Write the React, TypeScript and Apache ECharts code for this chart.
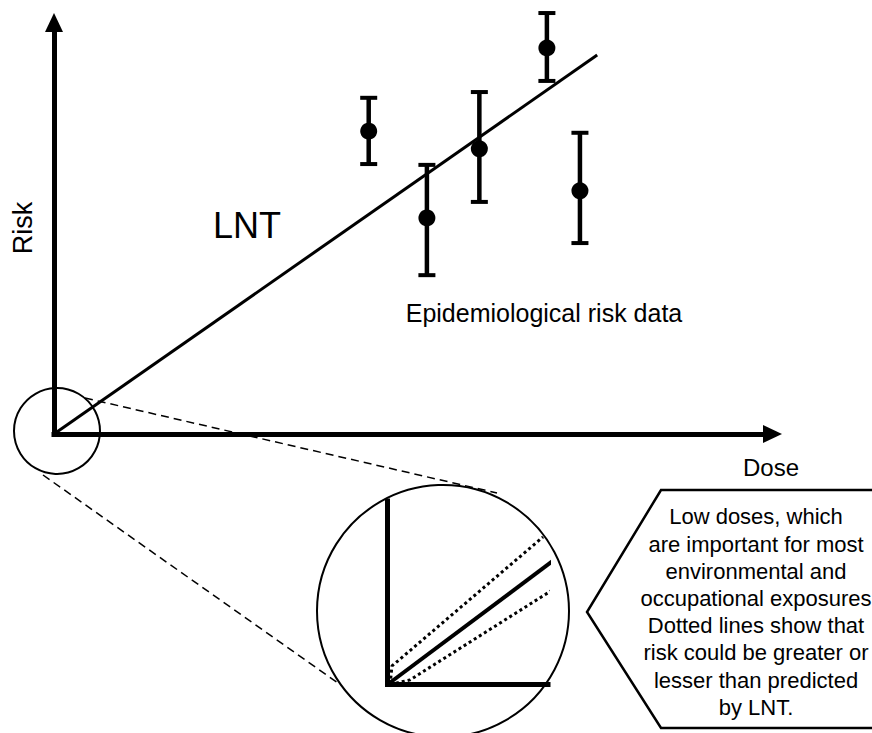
import React, { useEffect, useRef } from "react";
import * as echarts from "echarts";

// Main chart data (dose / risk on arbitrary 0-100 scales)
const doseX = [43.8, 51.9, 59.2, 68.6, 73.2];
const riskMid = [73.6, 52.5, 69.3, 93.8, 59.1];
const riskLow = [65.6, 38.6, 56.4, 85.8, 46.4];
const riskHigh = [81.7, 65.4, 83.1, 102.3, 73.2];
const lntLine = [
  [0, 0],
  [75.6, 92.1],
];

// Inset (low-dose zoom) data
const insetLnt = [
  [0, 0],
  [106.4, 69.6],
];
const insetUpper = [
  [1.6, 0],
  [2.8, 10.1],
  [96.9, 80.4],
];
const insetLower = [
  [1.6, 0],
  [14.0, 2.5],
  [112.5, 56.9],
];

// Texts
const axisXName = "Dose";
const axisYName = "Risk";
const lntLabel = "LNT";
const dataLabel = "Epidemiological risk data";
const calloutLines = [
  "Low doses, which",
  "are important for most",
  "environmental and",
  "occupational exposures",
  "Dotted lines show that",
  "risk could be greater or",
  "lesser than predicted",
  "by LNT.",
];

const FONT = "'Liberation Sans', Arial, sans-serif";

export default function App() {
  const ref = useRef<HTMLDivElement>(null);

  useEffect(() => {
    if (!ref.current) return;
    const chart = echarts.init(ref.current, undefined, { renderer: "svg" });

    const hiddenAxisParts = {
      axisTick: { show: false },
      axisLabel: { show: false },
      splitLine: { show: false },
    };

    const option: any = {
      animation: false,
      backgroundColor: "#fff",
      grid: [
        { left: 54, top: 22.5, width: 718.5, height: 411.5 },
        { left: 387.5, top: 501, width: 160.5, height: 183.5 },
      ],
      xAxis: [
        {
          gridIndex: 0,
          type: "value",
          min: 0,
          max: 100,
          axisLine: {
            show: true,
            onZero: false,
            symbol: ["none", "triangle"],
            symbolSize: [18, 19],
            lineStyle: { color: "#000", width: 5, cap: "square" },
          },
          ...hiddenAxisParts,
        },
        {
          gridIndex: 1,
          type: "value",
          min: 0,
          max: 100,
          axisLine: {
            show: true,
            onZero: false,
            lineStyle: { color: "#000", width: 5, cap: "square" },
          },
          ...hiddenAxisParts,
        },
      ],
      yAxis: [
        {
          gridIndex: 0,
          type: "value",
          min: 0,
          max: 100,
          axisLine: {
            show: true,
            onZero: false,
            symbol: ["none", "triangle"],
            symbolSize: [18, 19],
            lineStyle: { color: "#000", width: 5, cap: "square" },
          },
          ...hiddenAxisParts,
        },
        {
          gridIndex: 1,
          type: "value",
          min: 0,
          max: 100,
          axisLine: {
            show: true,
            onZero: false,
            lineStyle: { color: "#000", width: 5, cap: "square" },
          },
          ...hiddenAxisParts,
        },
      ],
      series: [
        {
          type: "line",
          xAxisIndex: 0,
          yAxisIndex: 0,
          data: lntLine,
          symbol: "none",
          clip: false,
          lineStyle: { color: "#000", width: 3 },
          z: 3,
        },
        {
          type: "custom",
          xAxisIndex: 0,
          yAxisIndex: 0,
          clip: false,
          z: 4,
          data: doseX.map((x, i) => [x, riskMid[i], riskLow[i], riskHigh[i]]),
          encode: { x: 0, y: 1 },
          renderItem: (params: any, api: any) => {
            const x = api.value(0);
            const pMid = api.coord([x, api.value(1)]);
            const pLo = api.coord([x, api.value(2)]);
            const pHi = api.coord([x, api.value(3)]);
            const cw = 8.5;
            return {
              type: "group",
              children: [
                {
                  type: "line",
                  shape: { x1: pLo[0], y1: pLo[1], x2: pHi[0], y2: pHi[1] },
                  style: { stroke: "#000", lineWidth: 4.5 },
                },
                {
                  type: "line",
                  shape: { x1: pHi[0] - cw, y1: pHi[1], x2: pHi[0] + cw, y2: pHi[1] },
                  style: { stroke: "#000", lineWidth: 4 },
                },
                {
                  type: "line",
                  shape: { x1: pLo[0] - cw, y1: pLo[1], x2: pLo[0] + cw, y2: pLo[1] },
                  style: { stroke: "#000", lineWidth: 4 },
                },
                {
                  type: "circle",
                  shape: { cx: pMid[0], cy: pMid[1], r: 8.5 },
                  style: { fill: "#000" },
                },
              ],
            };
          },
        },
        {
          type: "line",
          xAxisIndex: 1,
          yAxisIndex: 1,
          data: insetLnt,
          symbol: "none",
          clip: false,
          lineStyle: { color: "#000", width: 4 },
        },
        {
          type: "line",
          xAxisIndex: 1,
          yAxisIndex: 1,
          data: insetUpper,
          symbol: "none",
          clip: false,
          lineStyle: { color: "#000", width: 3, type: [3, 3] },
        },
        {
          type: "line",
          xAxisIndex: 1,
          yAxisIndex: 1,
          data: insetLower,
          symbol: "none",
          clip: false,
          lineStyle: { color: "#000", width: 3, type: [3, 3] },
        },
      ],
      graphic: [
        {
          type: "circle",
          shape: { cx: 57, cy: 431, r: 43 },
          style: { fill: "none", stroke: "#000", lineWidth: 2 },
        },
        {
          type: "circle",
          shape: { cx: 443, cy: 611, r: 126 },
          style: { fill: "none", stroke: "#000", lineWidth: 2 },
        },
        {
          type: "line",
          shape: { x1: 85, y1: 398, x2: 497, y2: 493 },
          style: { stroke: "#000", lineWidth: 1.5, lineDash: [8, 5] },
        },
        {
          type: "line",
          shape: { x1: 43, y1: 475, x2: 338, y2: 683 },
          style: { stroke: "#000", lineWidth: 1.5, lineDash: [8, 5] },
        },
        {
          type: "polyline",
          shape: {
            points: [
              [885, 490],
              [661, 490],
              [587, 612],
              [661, 728],
              [885, 728],
            ],
          },
          style: { fill: "none", stroke: "#000", lineWidth: 2.5 },
        },
        {
          type: "text",
          x: 756,
          y: 612,
          style: {
            text: calloutLines.join("\n"),
            fontSize: 22,
            fontFamily: FONT,
            lineHeight: 27.2,
            fill: "#000",
            align: "center",
            verticalAlign: "middle",
          },
        },
        {
          type: "text",
          x: 247,
          y: 225,
          style: {
            text: lntLabel,
            fontSize: 36,
            fontFamily: FONT,
            fill: "#000",
            align: "center",
            verticalAlign: "middle",
          },
        },
        {
          type: "text",
          x: 544,
          y: 313,
          style: {
            text: dataLabel,
            fontSize: 25,
            fontFamily: FONT,
            fill: "#000",
            align: "center",
            verticalAlign: "middle",
          },
        },
        {
          type: "text",
          x: 771,
          y: 467,
          style: {
            text: axisXName,
            fontSize: 24,
            fontFamily: FONT,
            fill: "#000",
            align: "center",
            verticalAlign: "middle",
          },
        },
        {
          type: "text",
          x: 23,
          y: 228,
          rotation: Math.PI / 2,
          style: {
            text: axisYName,
            fontSize: 27,
            fontFamily: FONT,
            fill: "#000",
            align: "center",
            verticalAlign: "middle",
          },
        },
      ],
    };

    chart.setOption(option);
    return () => chart.dispose();
  }, []);

  return (
    <div
      ref={ref}
      style={{ position: "absolute", left: 0, top: 0, width: 872, height: 733 }}
    />
  );
}
